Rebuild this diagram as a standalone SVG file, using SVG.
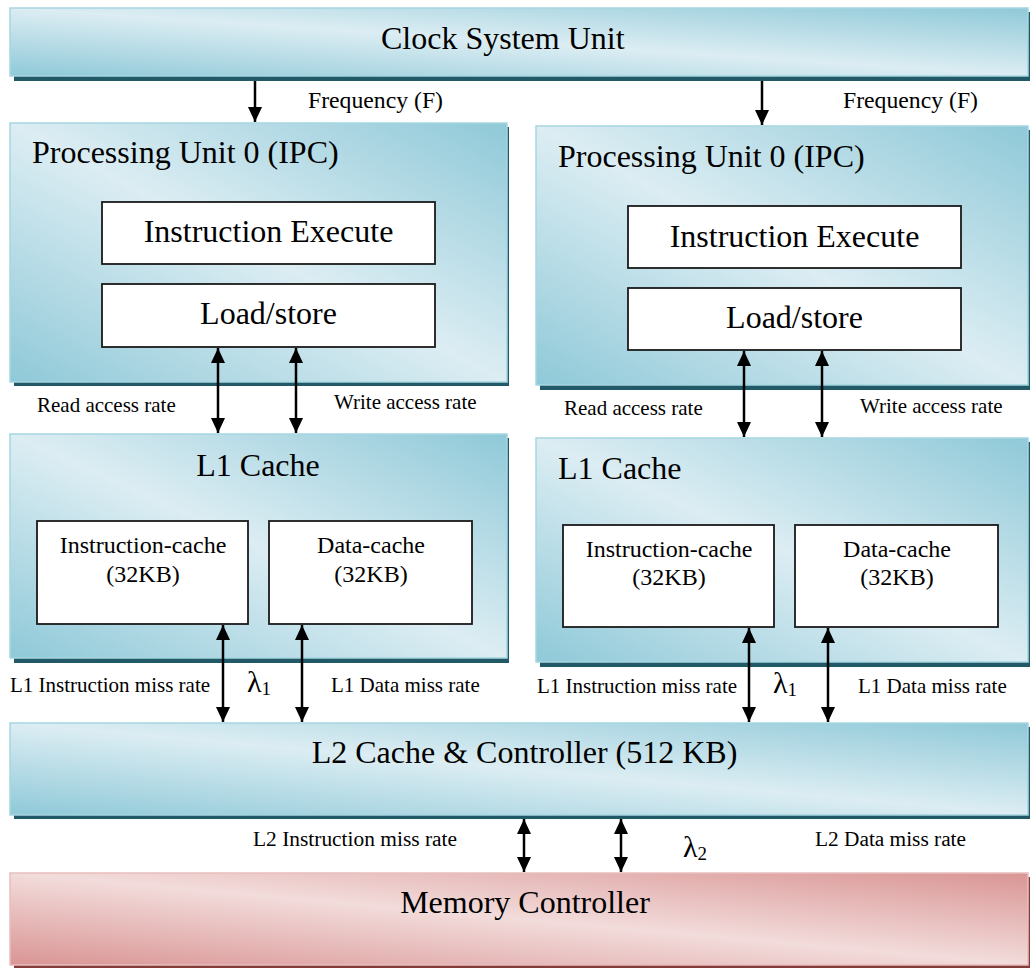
<svg xmlns="http://www.w3.org/2000/svg" width="1030" height="968" viewBox="0 0 1030 968">
<defs>
<linearGradient id="gBlue" x1="0" y1="1" x2="1" y2="0">
<stop offset="0" stop-color="#8fc9d8"/>
<stop offset="0.5" stop-color="#dcedf3"/>
<stop offset="1" stop-color="#8fc9d8"/>
</linearGradient>
<linearGradient id="gRed" x1="0" y1="1" x2="1" y2="0">
<stop offset="0" stop-color="#d99594"/>
<stop offset="0.5" stop-color="#f2dcdb"/>
<stop offset="1" stop-color="#d99594"/>
</linearGradient>
<marker id="ah" markerUnits="userSpaceOnUse" markerWidth="15" markerHeight="15" refX="15" refY="7" orient="auto-start-reverse" viewBox="0 0 15 14">
<path d="M0,0 L15,7 L0,14 z" fill="#000"/>
</marker>
</defs>
<style>
.t{font-family:"Liberation Serif","Times New Roman",serif;fill:#000}
.big{font-size:32px}
.mid{font-size:24px}
.lbl{font-size:21px}
.sm{font-size:20px}
.lam{font-size:30px}
.sub{font-size:19px}
.blue{fill:url(#gBlue);stroke:#a6d6e1;stroke-width:1.5}
.red{fill:url(#gRed);stroke:#e8bebd;stroke-width:1.5}
.shB{fill:#215967}
.shR{fill:#843c3b}
.wbox{fill:#fff;stroke:#1a1a1a;stroke-width:1.8}
.ar{stroke:#000;stroke-width:2.5;fill:none}
</style>
<rect width="1030" height="968" fill="#fff"/>

<g id="clock">
<rect class="shB" x="14" y="12" width="1020" height="69"/>
<rect class="blue" x="10" y="8" width="1018" height="68"/>
<text class="t big" x="381" y="49">Clock System Unit</text>
</g>

<g id="pu-left">
<rect class="shB" x="14" y="127" width="495" height="259"/>
<rect class="blue" x="10" y="123" width="497" height="259"/>
<text class="t big" x="32" y="163">Processing Unit 0 (IPC)</text>
</g>
<g id="ie-left">
<rect class="wbox" x="102" y="202" width="333" height="62"/>
<text class="t big" x="268.5" y="242" text-anchor="middle">Instruction Execute</text>
</g>
<g id="ls-left">
<rect class="wbox" x="102" y="284" width="333" height="63"/>
<text class="t big" x="268.5" y="324" text-anchor="middle">Load/store</text>
</g>

<g id="pu-right">
<rect class="shB" x="540" y="130" width="495" height="260"/>
<rect class="blue" x="536" y="126" width="492" height="259"/>
<text class="t big" x="558" y="167">Processing Unit 0 (IPC)</text>
</g>
<g id="ie-right">
<rect class="wbox" x="628" y="206" width="333" height="62"/>
<text class="t big" x="794.5" y="247" text-anchor="middle">Instruction Execute</text>
</g>
<g id="ls-right">
<rect class="wbox" x="628" y="288" width="333" height="62"/>
<text class="t big" x="794.5" y="328" text-anchor="middle">Load/store</text>
</g>

<g id="l1-left">
<rect class="shB" x="14" y="438" width="495" height="225"/>
<rect class="blue" x="10" y="434" width="497" height="224"/>
<text class="t big" x="258" y="476" text-anchor="middle">L1 Cache</text>
</g>
<g id="ic-left">
<rect class="wbox" x="37" y="521" width="211" height="103"/>
<text class="t mid" x="143" y="553" text-anchor="middle">Instruction-cache</text>
<text class="t mid" x="143" y="582" text-anchor="middle">(32KB)</text>
</g>
<g id="dc-left">
<rect class="wbox" x="269" y="521" width="203" height="103"/>
<text class="t mid" x="371" y="553" text-anchor="middle">Data-cache</text>
<text class="t mid" x="371" y="582" text-anchor="middle">(32KB)</text>
</g>

<g id="l1-right">
<rect class="shB" x="540" y="442" width="495" height="225"/>
<rect class="blue" x="536" y="438" width="492" height="224"/>
<text class="t big" x="558" y="479">L1 Cache</text>
</g>
<g id="ic-right">
<rect class="wbox" x="563" y="525" width="211" height="102"/>
<text class="t mid" x="669" y="557" text-anchor="middle">Instruction-cache</text>
<text class="t mid" x="669" y="585" text-anchor="middle">(32KB)</text>
</g>
<g id="dc-right">
<rect class="wbox" x="795" y="525" width="203" height="102"/>
<text class="t mid" x="897" y="557" text-anchor="middle">Data-cache</text>
<text class="t mid" x="897" y="585" text-anchor="middle">(32KB)</text>
</g>

<g id="l2">
<rect class="shB" x="14" y="727" width="1020" height="92"/>
<rect class="blue" x="10" y="723" width="1018" height="92"/>
<text class="t big" x="524.5" y="763" text-anchor="middle">L2 Cache &amp; Controller (512 KB)</text>
</g>

<g id="mem">
<rect class="shR" x="14" y="877" width="1020" height="91"/>
<rect class="red" x="10" y="873" width="1018" height="92"/>
<text class="t big" x="525" y="913" text-anchor="middle">Memory Controller</text>
</g>

<g id="connectors">
<line class="ar" x1="255" y1="81" x2="255" y2="122" marker-end="url(#ah)"/>
<line class="ar" x1="762" y1="81" x2="762" y2="125" marker-end="url(#ah)"/>
<line class="ar" x1="218" y1="348" x2="218" y2="433" marker-start="url(#ah)" marker-end="url(#ah)"/>
<line class="ar" x1="296" y1="348" x2="296" y2="433" marker-start="url(#ah)" marker-end="url(#ah)"/>
<line class="ar" x1="744" y1="351" x2="744" y2="437" marker-start="url(#ah)" marker-end="url(#ah)"/>
<line class="ar" x1="822" y1="351" x2="822" y2="437" marker-start="url(#ah)" marker-end="url(#ah)"/>
<line class="ar" x1="223" y1="625" x2="223" y2="722" marker-start="url(#ah)" marker-end="url(#ah)"/>
<line class="ar" x1="302" y1="625" x2="302" y2="722" marker-start="url(#ah)" marker-end="url(#ah)"/>
<line class="ar" x1="749" y1="628" x2="749" y2="722" marker-start="url(#ah)" marker-end="url(#ah)"/>
<line class="ar" x1="828" y1="628" x2="828" y2="722" marker-start="url(#ah)" marker-end="url(#ah)"/>
<line class="ar" x1="524" y1="819" x2="524" y2="872" marker-start="url(#ah)" marker-end="url(#ah)"/>
<line class="ar" x1="621" y1="819" x2="621" y2="872" marker-start="url(#ah)" marker-end="url(#ah)"/>
</g>

<g id="labels">
<text class="t" x="308" y="108" font-size="23" textLength="135" lengthAdjust="spacingAndGlyphs">Frequency (F)</text>
<text class="t" x="843" y="108" font-size="23" textLength="135" lengthAdjust="spacingAndGlyphs">Frequency (F)</text>
<text class="t lbl" x="37" y="412">Read access rate</text>
<text class="t lbl" x="334" y="409">Write access rate</text>
<text class="t lbl" x="564" y="415">Read access rate</text>
<text class="t lbl" x="860" y="413">Write access rate</text>
<text class="t lbl" x="10" y="692">L1 Instruction miss rate</text>
<text class="t lbl" x="331" y="692">L1 Data miss rate</text>
<text class="t lbl" x="537" y="693">L1 Instruction miss rate</text>
<text class="t lbl" x="858" y="693">L1 Data miss rate</text>
<text class="t" x="247" y="692"><tspan class="lam">λ</tspan><tspan class="sub" dy="3">1</tspan></text>
<text class="t" x="773" y="693"><tspan class="lam">λ</tspan><tspan class="sub" dy="3">1</tspan></text>
<text class="t sm" x="253" y="846" textLength="204" lengthAdjust="spacingAndGlyphs">L2 Instruction miss rate</text>
<text class="t sm" x="815" y="846" textLength="151" lengthAdjust="spacingAndGlyphs">L2 Data miss rate</text>
<text class="t" x="683" y="857"><tspan class="lam">λ</tspan><tspan class="sub" dy="3">2</tspan></text>
</g>
</svg>
